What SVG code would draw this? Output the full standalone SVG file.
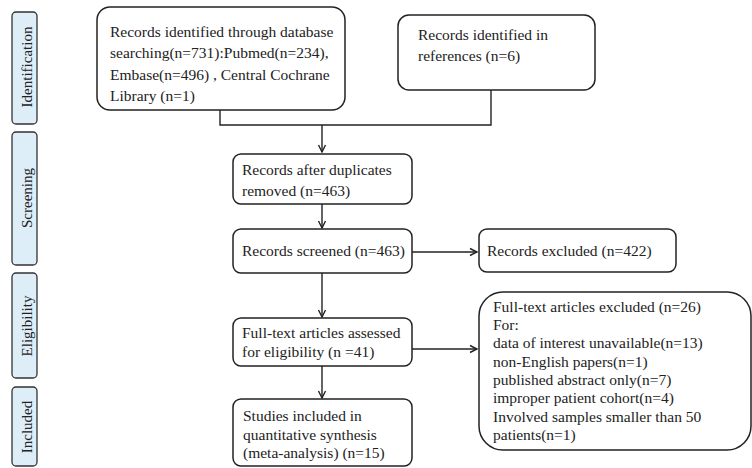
<svg xmlns="http://www.w3.org/2000/svg" width="752" height="468" viewBox="0 0 752 468">
<defs>
<marker id="ah" markerWidth="10" markerHeight="10" refX="8" refY="5" orient="auto" markerUnits="userSpaceOnUse">
<path d="M1,1.5 L8,5 L1,8.5" fill="none" stroke="#222" stroke-width="1.4"/>
</marker>
<style>
.stage{fill:#deeef9;stroke:#333;stroke-width:1.3}
.box{fill:#fff;stroke:#222;stroke-width:1.5}
.t{font-family:'Liberation Serif','Times New Roman',Tinos,'DejaVu Serif',serif;font-size:15.5px;fill:#222}
.s{font-family:'Liberation Serif','Times New Roman',Tinos,'DejaVu Serif',serif;font-size:15px;fill:#222}
.c{fill:none;stroke:#222;stroke-width:1.4}
</style>
</defs>
<rect width="752" height="468" fill="#fff"/>
<g id="stage-identification"><rect class="stage" x="12" y="12" width="25" height="112" rx="4"/><text class="s" transform="translate(32,67) rotate(-90)" text-anchor="middle">Identification</text></g>
<g id="stage-screening"><rect class="stage" x="12" y="132" width="25" height="133" rx="4"/><text class="s" transform="translate(32,198) rotate(-90)" text-anchor="middle">Screening</text></g>
<g id="stage-eligibility"><rect class="stage" x="12" y="273" width="25" height="105" rx="4"/><text class="s" transform="translate(32,326) rotate(-90)" text-anchor="middle">Eligibility</text></g>
<g id="stage-included"><rect class="stage" x="12" y="387" width="25" height="79" rx="4"/><text class="s" transform="translate(32,427) rotate(-90)" text-anchor="middle">Included</text></g>

<g id="connectors">
<polyline class="c" points="220,110 220,125 491,125 491,90"/>
<line class="c" x1="322" y1="125" x2="322" y2="152" marker-end="url(#ah)"/>
<line class="c" x1="322" y1="204" x2="322" y2="228" marker-end="url(#ah)"/>
<line class="c" x1="412" y1="252" x2="477" y2="252" marker-end="url(#ah)"/>
<line class="c" x1="322" y1="273" x2="322" y2="317" marker-end="url(#ah)"/>
<line class="c" x1="412" y1="349" x2="477" y2="349" marker-end="url(#ah)"/>
<line class="c" x1="322" y1="366" x2="322" y2="398" marker-end="url(#ah)"/>
</g>

<g id="n-database"><rect class="box" x="97" y="7" width="248" height="103" rx="13"/>
<text class="t" x="110" y="37">Records identified through database</text>
<text class="t" x="110" y="58">searching(n=731):Pubmed(n=234),</text>
<text class="t" x="110" y="80">Embase(n=496) , Central Cochrane</text>
<text class="t" x="110" y="101">Library (n=1)</text></g>

<g id="n-references"><rect class="box" x="398" y="15" width="197" height="75" rx="11"/>
<text class="t" x="418" y="40">Records identified in</text>
<text class="t" x="418" y="61">references (n=6)</text></g>

<g id="n-duplicates"><rect class="box" x="233" y="154" width="179" height="50" rx="8"/>
<text class="t" x="242" y="175">Records after duplicates</text>
<text class="t" x="242" y="196">removed (n=463)</text></g>

<g id="n-screened"><rect class="box" x="233" y="229" width="179" height="44" rx="8"/>
<text class="t" x="242" y="256">Records screened (n=463)</text></g>

<g id="n-excluded"><rect class="box" x="479" y="229" width="197" height="43" rx="8"/>
<text class="t" x="487" y="256">Records excluded (n=422)</text></g>

<g id="n-fulltext"><rect class="box" x="233" y="318" width="179" height="48" rx="8"/>
<text class="t" x="242" y="338">Full-text articles assessed</text>
<text class="t" x="242" y="357">for eligibility (n =41)</text></g>

<g id="n-ft-excluded"><rect class="box" x="479" y="292" width="272" height="158" rx="24"/>
<text class="t" x="493" y="312">Full-text articles excluded (n=26)</text>
<text class="t" x="493" y="330">For:</text>
<text class="t" x="493" y="348">data of interest unavailable(n=13)</text>
<text class="t" x="493" y="367">non-English papers(n=1)</text>
<text class="t" x="493" y="385">published abstract only(n=7)</text>
<text class="t" x="493" y="403">improper patient cohort(n=4)</text>
<text class="t" x="493" y="422">Involved samples smaller than 50</text>
<text class="t" x="493" y="440">patients(n=1)</text></g>

<g id="n-included"><rect class="box" x="233" y="399" width="179" height="67" rx="8"/>
<text class="t" x="243" y="421">Studies included in</text>
<text class="t" x="243" y="440">quantitative synthesis</text>
<text class="t" x="243" y="458">(meta-analysis) (n=15)</text></g>
</svg>
